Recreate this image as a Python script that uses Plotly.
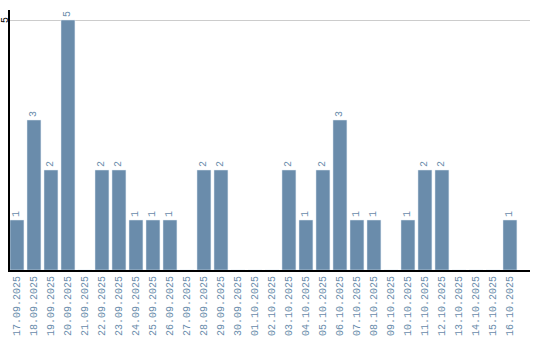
import plotly.graph_objects as go

dates = ["17.09.2025", "18.09.2025", "19.09.2025", "20.09.2025", "21.09.2025",
         "22.09.2025", "23.09.2025", "24.09.2025", "25.09.2025", "26.09.2025",
         "27.09.2025", "28.09.2025", "29.09.2025", "30.09.2025", "01.10.2025",
         "02.10.2025", "03.10.2025", "04.10.2025", "05.10.2025", "06.10.2025",
         "07.10.2025", "08.10.2025", "09.10.2025", "10.10.2025", "11.10.2025",
         "12.10.2025", "13.10.2025", "14.10.2025", "15.10.2025", "16.10.2025"]
counts = [1, 3, 2, 5, 0, 2, 2, 1, 1, 1, 0, 2, 2, 0, 0, 0, 2, 1, 2, 3, 1, 1, 0, 1, 2, 2, 0, 0, 0, 1]
y_ticks = [5]

color = "#6a8cab"
labels = [str(v) if v > 0 else "" for v in counts]

fig = go.Figure(go.Bar(
    x=list(range(len(dates))), y=counts, marker_color=color,
    text=labels, textposition="outside", textangle=-90,
    textfont=dict(family="Liberation Mono", size=10, color=color),
    cliponaxis=False, hoverinfo="skip",
))
fig.update_layout(
    width=540, height=340, margin=dict(l=10, r=10, t=10, b=70),
    paper_bgcolor="white", plot_bgcolor="white", bargap=0.18,
    showlegend=False,
    font=dict(family="Liberation Mono"),
)
for t in y_ticks:
    fig.add_annotation(
        x=0, xref="paper", y=t, yref="y", text=str(t), showarrow=False,
        textangle=-90, xanchor="center", yanchor="middle", xshift=-5,
        font=dict(family="Liberation Mono", size=10, color="black"),
    )
fig.update_xaxes(
    range=[-0.41, 30.18], tickmode="array", tickvals=list(range(len(dates))),
    ticktext=dates, tickangle=-90, showline=True, linecolor="black", linewidth=2,
    showgrid=False, zeroline=False, ticks="", automargin=False,
    tickfont=dict(family="Liberation Mono", size=10, color=color),
)
fig.update_yaxes(
    range=[0, 5.2], tickvals=y_ticks, showticklabels=False,
    showline=True, linecolor="black", linewidth=2, showgrid=True,
    gridcolor="#cccccc", zeroline=False, ticks="", automargin=False,
)
fig.write_html("out.html")
